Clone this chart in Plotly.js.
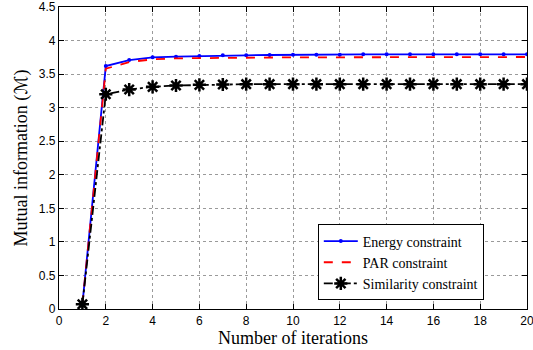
<!DOCTYPE html>
<html><head><meta charset="utf-8">
<script src="https://cdn.plot.ly/plotly-3.0.1.min.js"></script>
<style>html,body{margin:0;padding:0;background:#fff}#plot{width:533px;height:350px}</style>
</head><body><div id="plot"></div>
<script>
const iterations = [1,2,3,4,5,6,7,8,9,10,11,12,13,14,15,16,17,18,19,20];
const energy = [0.07,3.62,3.71,3.75,3.76,3.77,3.78,3.78,3.785,3.79,3.79,3.79,3.795,3.795,3.795,3.795,3.795,3.795,3.795,3.795];
const par = [0.07,3.58,3.68,3.72,3.735,3.74,3.745,3.745,3.75,3.75,3.75,3.75,3.75,3.75,3.755,3.755,3.755,3.755,3.755,3.755];
const similarity = [0.07,3.20,3.27,3.31,3.33,3.34,3.345,3.35,3.35,3.35,3.35,3.35,3.35,3.35,3.35,3.35,3.35,3.35,3.35,3.35];
const seriesNames = ['Energy constraint','PAR constraint','Similarity constraint'];

const traces = [
  {x: iterations, y: energy, name: seriesNames[0], mode: 'lines+markers',
   line: {color: '#0000ff', width: 1.8}, marker: {color: '#0000ff', size: 4, symbol: 'circle'}},
  {x: iterations, y: par, name: seriesNames[1], mode: 'lines',
   line: {color: '#ff0000', width: 1.8, dash: 'dash'}},
  {x: iterations, y: similarity, name: seriesNames[2], mode: 'lines+markers',
   line: {color: '#000000', width: 1.8, dash: 'dashdot'},
   marker: {symbol: 'asterisk-open', size: 11, color: '#000', line: {color: '#000', width: 2.5}}}
];

const axisCommon = {
  showline: true, linecolor: '#000', linewidth: 1.2, mirror: 'ticks',
  ticks: 'inside', ticklen: 5, tickcolor: '#000', tickwidth: 1,
  showgrid: true, gridcolor: '#9a9a9a', griddash: 'dot', gridwidth: 1,
  zeroline: false, ticklabeloverflow: 'allow',
  tickfont: {family: 'Liberation Sans, Arial', size: 12, color: '#000'}
};

const layout = {
  width: 533, height: 350,
  margin: {l: 59, r: 6, t: 7, b: 41},
  paper_bgcolor: '#fff', plot_bgcolor: '#fff',
  showlegend: true,
  xaxis: Object.assign({}, axisCommon, {range: [0, 20], dtick: 2, tick0: 0,
    title: {text: 'Number of iterations', standoff: 0, font: {family: 'Liberation Serif, Times New Roman', size: 18, color: '#000'}}}),
  yaxis: Object.assign({}, axisCommon, {range: [0, 4.5], dtick: 0.5, tick0: 0,
    title: {text: 'Mutual information (<span style="font-family:DejaVu Sans">ℳ</span>)', standoff: 6, font: {family: 'Liberation Serif, Times New Roman', size: 18, color: '#000'}}}),
  legend: {x: 0.553, y: 0.28, xanchor: 'left', yanchor: 'top',
    bgcolor: '#fff', bordercolor: '#000', borderwidth: 1,
    font: {family: 'Liberation Serif, Times New Roman', size: 14, color: '#000'},
    tracegroupgap: 0, itemwidth: 34}
};

Plotly.newPlot('plot', traces, layout, {displayModeBar: false, staticPlot: true});
</script></body></html>
